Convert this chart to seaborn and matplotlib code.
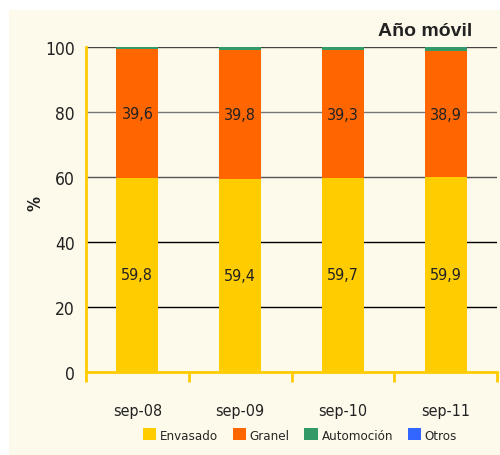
import numpy as np
import pandas as pd
import seaborn as sns
from matplotlib import pyplot as plt
from matplotlib.patches import Patch

periodos = ['sep-08', 'sep-09', 'sep-10', 'sep-11']
envasado = [59.8, 59.4, 59.7, 59.9]
granel = [39.6, 39.8, 39.3, 38.9]
automocion = [0.6, 0.8, 1.0, 1.2]
otros = [0.0, 0.0, 0.0, 0.0]

series = ['Envasado', 'Granel', 'Automoción', 'Otros']
colores = ['#FFCC00', '#FF6600', '#339966', '#3366FF']

sns.set_style('white')
plt.rcParams['font.family'] = ['DejaVu Sans']
plt.rcParams['font.stretch'] = 'condensed'

fondo = '#FDF9EB'
fig = plt.figure(figsize=(5, 4.56), dpi=100)
fig.patch.set_facecolor('white')
fondo_rect = plt.Rectangle((9 / 500, 0), 1, 1 - 11 / 456, transform=fig.transFigure,
                           facecolor=fondo, edgecolor='none', zorder=-10)
fig.add_artist(fondo_rect)
ax = fig.add_axes([86 / 500, 1 - 373 / 456, 411 / 500, 325 / 456])
ax.set_facecolor(fondo)

df = pd.DataFrame({'periodo': periodos, 'Envasado': envasado, 'Granel': granel,
                   'Automoción': automocion, 'Otros': otros})
base = np.zeros(len(periodos))
for s, c in zip(series, colores):
    sns.barplot(data=df, x='periodo', y=s, color=c, bottom=base, width=0.41,
                ax=ax, zorder=3, saturation=1, linewidth=0, edgecolor='none')
    base = base + df[s].values

for i in range(len(periodos)):
    ax.text(i, envasado[i] / 2, f'{envasado[i]:.1f}'.replace('.', ','), ha='center',
            va='center', fontsize=11.5, color='#222222', zorder=4)
    ax.text(i, envasado[i] + granel[i] / 2, f'{granel[i]:.1f}'.replace('.', ','),
            ha='center', va='center', fontsize=11.5, color='#222222', zorder=4)

ax.set_ylim(0, 100)
ax.set_xlim(-0.5, 3.5)
ax.set_yticks([0, 20, 40, 60, 80, 100])
for yv, col in [(20, 'black'), (40, 'black'), (60, '#555555'), (80, '#777777'), (100, '#444444')]:
    ax.axhline(yv, color=col, lw=1, zorder=1)

for sp in ['top', 'right']:
    ax.spines[sp].set_visible(False)
for sp in ['left', 'bottom']:
    ax.spines[sp].set_color('#FFCC00')
    ax.spines[sp].set_linewidth(2)
ax.tick_params(axis='y', length=6, width=2, color='#FFCC00', labelsize=12.5, labelcolor='#222222', pad=2)
ax.set_xticks(range(4))
ax.set_xticklabels(periodos)
ax.tick_params(axis='x', which='major', length=0, labelsize=11.5, labelcolor='#222222', pad=22)
ax.set_xticks([-0.5, 0.5, 1.5, 2.5, 3.5], minor=True)
ax.tick_params(axis='x', which='minor', bottom=True, length=7, width=2, color='#FFCC00', direction='out')
ax.set_xlabel('')
ax.set_ylabel('%', fontsize=12, fontweight='bold', color='#222222')
ax.yaxis.set_label_coords(-0.10, 0.52)

fig.text(0.944, 0.93, 'Año móvil', ha='right', va='center', fontsize=14,
         fontweight='bold', color='#222222', family='Liberation Sans', stretch='normal')

handles = [Patch(facecolor=c, edgecolor='none') for c in colores]
fig.legend(handles, series, loc='center', bbox_to_anchor=(0.6, 0.044), ncol=4,
           frameon=False, fontsize=9.5, handlelength=1.0, handleheight=1.0,
           handletextpad=0.3, columnspacing=1.1)

fig.savefig('out.png', dpi=100, facecolor='white')
